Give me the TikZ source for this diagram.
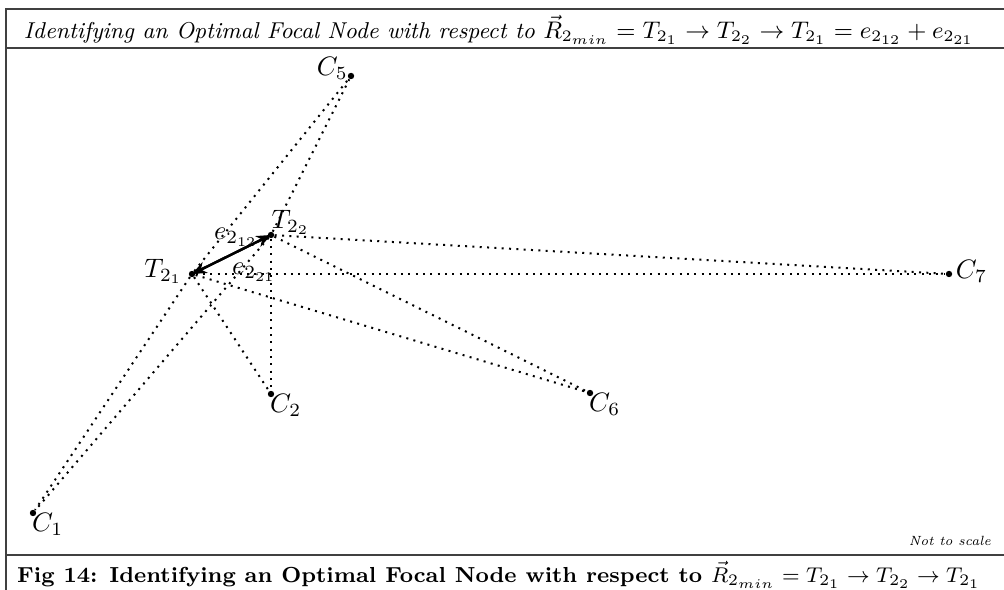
\documentclass[tikz,border=0pt]{standalone}
\usetikzlibrary{arrows.meta}
\begin{document}
\begin{tikzpicture}[x=0.375pt,y=-0.375pt,
  frame/.style={draw=black!75,line width=0.6pt},
  pt/.style={circle,fill=black,inner sep=0pt,minimum size=2.4pt},
  link/.style={dotted,line width=0.75pt},
  edge/.style={line width=0.9pt,-{Stealth[length=5.5pt,width=4.5pt]}},
  lbl/.style={inner sep=1pt},
  head/.style={inner sep=1pt,font=\fontsize{8.6pt}{10pt}\selectfont},
  foot/.style={inner sep=1pt,font=\fontsize{8.15pt}{10pt}\selectfont}]
\useasboundingbox (0,0) rectangle (1004,590);
% frame
\coordinate (fTL) at (6,9);
\coordinate (fTR) at (1004,9);
\coordinate (fBL) at (6,590);
\coordinate (h1L) at (6,48);
\coordinate (h1R) at (1004,48);
\coordinate (h2L) at (6,555);
\coordinate (h2R) at (1004,555);
\draw[frame] (fBL) -- (fTL) -- (fTR);
\draw[frame] (h1L) -- (h1R);
\draw[frame] (h2L) -- (h2R);
\node[head] (title) at (499,30) {\itshape Identifying an Optimal Focal Node with respect to $\vec{R}_{2_{min}}=T_{2_1}\rightarrow T_{2_2}\rightarrow T_{2_1}=e_{2_{12}}+e_{2_{21}}$};
\node[foot] (caption) at (499,575) {\bfseries Fig 14: Identifying an Optimal Focal Node with respect to $\vec{R}_{2_{min}}=T_{2_1}\rightarrow T_{2_2}\rightarrow T_{2_1}$};
\node[lbl,anchor=east] (nts) at (994,541) {\tiny\itshape Not to scale};
% points
\node[pt] (T1) at (192,274) {};
\node[pt] (T2) at (271,235) {};
\node[pt] (C1) at (33,513) {};
\node[pt] (C2) at (271,394) {};
\node[pt] (C5) at (351,76) {};
\node[pt] (C6) at (590,393) {};
\node[pt] (C7) at (949,274) {};
% labels
\node[lbl,anchor=east] (lT1) at ([xshift=-1pt,yshift=1pt]T1.west) {$T_{2_1}$};
\node[lbl,anchor=south west] (lT2) at ([xshift=-1pt,yshift=-2.5pt]T2.north) {$T_{2_2}$};
\node[lbl,anchor=north west] (lC1) at ([xshift=-1.5pt,yshift=1pt]C1.center) {$C_1$};
\node[lbl,anchor=north west] (lC2) at ([xshift=-1.5pt,yshift=1pt]C2.center) {$C_2$};
\node[lbl,anchor=north west] (lC6) at ([xshift=-1.5pt,yshift=1pt]C6.center) {$C_6$};
\node[lbl,anchor=south east] (lC5) at ([xshift=0pt,yshift=-2.5pt]C5.center) {$C_5$};
\node[lbl,anchor=west] (lC7) at ([yshift=1pt]C7.east) {$C_7$};
% dotted links
\foreach \c in {C1,C2,C5,C6,C7}{
  \draw[link] (T1) -- (\c);
  \draw[link] (T2) -- (\c);
}
% arrows
\draw[edge] (T1.center) -- (T2.center);
\draw[edge] (T2.center) -- (T1.center);
\node[lbl] (e12) at (236,237) {$e_{2_{12}}$};
\node[lbl] (e21) at (254,272) {$e_{2_{21}}$};
\end{tikzpicture}
\end{document}
